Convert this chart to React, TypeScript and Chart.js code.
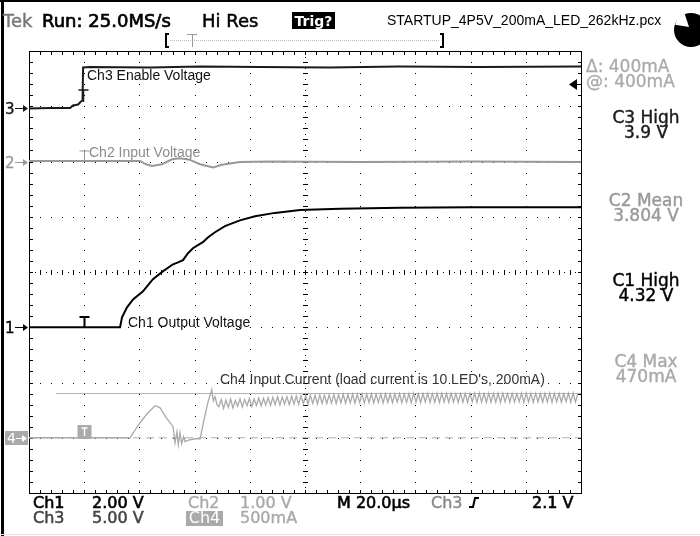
import React, { useEffect, useRef } from "react";
import { Chart, registerables } from "chart.js";

Chart.register(...registerables);

// ---- Time base: 20 µs/div, 10 divisions, trigger one division from the left
const T_MIN = -20;
const T_MAX = 180;

// ---- Ch1 Output Voltage (V), 2.00 V/div
const CH1_T = [-20, 13, 13.7, 15.5, 17.7, 21.3, 24.9, 28.6, 32.2, 34.0, 35.8, 37.6, 39.4, 41.2, 43.0, 44.9, 47.4, 51.0, 56.4, 61.9, 69.1, 78.2, 92.7, 114.4, 140, 180];
const CH1_V = [0, 0, 0.36, 0.72, 1.01, 1.3, 1.74, 2.03, 2.28, 2.35, 2.43, 2.68, 2.86, 2.97, 3.08, 3.26, 3.44, 3.66, 3.87, 4.02, 4.14, 4.24, 4.29, 4.33, 4.34, 4.34];

// ---- Ch3 Enable Voltage (V), 5.00 V/div
const CH3_T = [-20, -12.4, -5.1, -4.1, -2.2, -1.2, -0.6, -0.4, 2.1, 23.8, 42, 63.7, 89, 114, 143, 180];
const CH3_V = [0, 0.04, 0.05, 0.27, 0.36, 0.63, 0.72, 3.71, 3.76, 3.71, 3.8, 3.76, 3.71, 3.8, 3.76, 3.8];

// ---- Ch2 Input Voltage (V), 1.00 V/div, offset 3.8 V
const CH2_T = [-20, 20.2, 22.4, 24.6, 28.2, 31.8, 34.7, 38.3, 42.0, 46.7, 49.9, 56.4, 67.3, 100, 140, 180];
const CH2_V = [3.81, 3.81, 3.75, 3.72, 3.75, 3.84, 3.86, 3.83, 3.75, 3.69, 3.74, 3.79, 3.8, 3.79, 3.8, 3.79];

// ---- Ch4 Input Current (mA), 500 mA/div
const CH4_T = [-20, 0, 16.6, 20.2, 23.1, 25.7, 27.5, 29.7, 31.1, 32.2, 32.9, 33.6, 34.1, 34.7, 35.3, 36.0, 36.5, 38.3, 40.1, 42.0, 43.4, 44.9, 46.2, 46.8, 47.4, 48.1];
const CH4_MA = [0, 0, 0, 136, 226, 290, 271, 181, 136, 100, -45, 54, -63, 45, -54, 9, -36, -18, -9, -9, 163, 326, 434, 335, 371, 299];
const CH4_RIPPLE_T0 = 48.8;
const CH4_RIPPLE_DT = 0.85;
const CH4_RIPPLE_MA = [
  280, 345, 265, 340, 275, 350, 270, 338, 285, 352, 278, 346, 290, 355, 283, 350, 292, 360, 288, 356,
  296, 362, 292, 366, 300, 370, 296, 368, 305, 372, 300, 376, 306, 378, 303, 380, 308, 382, 305, 385,
  310, 384, 306, 388, 312, 386, 309, 390, 314, 392, 310, 389, 315, 394, 312, 391, 316, 395, 313, 393,
  318, 396, 314, 394, 319, 398, 315, 395, 320, 397, 316, 399, 321, 396, 317, 398, 322, 400, 318, 397,
  320, 399, 317, 401, 322, 398, 318, 400, 323, 402, 319, 399, 321, 401, 318, 403, 323, 400, 320, 402,
  324, 399, 319, 401, 322, 403, 320, 400, 325, 402, 321, 404, 323, 401, 319, 403, 324, 400, 322, 402,
  320, 404, 325, 401, 321, 403, 323, 400, 326, 402, 320, 404, 324, 401, 322, 403, 325, 400, 321, 402,
  324, 404, 320, 401, 325, 403, 322, 400, 326, 402, 321, 404, 323, 401,
];

// ---- Cursors (Ch4) and trigger
const CURSOR_A_MA = 0;
const CURSOR_B_MA = 400;
const CURSOR_B_T_START = -10.2;
const TRIG_LEVEL_V = 2.1;

// ---- Readouts
const MEAS_LABELS = ["C3 High", "C2 Mean", "C1 High", "C4 Max"];
const MEAS_VALUES = ["3.9 V", "3.804 V", "4.32 V", "470mA"];
const CURSOR_TEXT = ["\u0394: 400mA", "@: 400mA"];
const CH_NAMES = ["Ch1", "Ch2", "Ch3", "Ch4"];
const CH_SCALES = ["2.00 V", "1.00 V", "5.00 V", "500mA"];
const TRACE_LABELS = [
  "Ch3 Enable Voltage",
  "Ch2 Input Voltage",
  "Ch1 Output Voltage",
  "Ch4 Input Current (load current is 10 LED's, 200mA)",
];

const C_CH1 = "#000000";
const C_CH2 = "#999999";
const C_CH3 = "#1a1a1a";
const C_CH4 = "#aaaaaa";

const TEK = '"DejaVu Sans", sans-serif';
const ARIAL = '"Liberation Sans", Arial, sans-serif';

function pts(t: number[], v: number[]) {
  return t.map((x, i) => ({ x, y: v[i] }));
}

function ch4Points() {
  const a = pts(CH4_T, CH4_MA);
  const b = CH4_RIPPLE_MA.map((v, i) => ({ x: CH4_RIPPLE_T0 + i * CH4_RIPPLE_DT, y: v }));
  return a.concat(b);
}

const graticulePlugin = {
  id: "graticule",
  beforeDraw(chart: any) {
    const ctx = chart.ctx;
    ctx.save();
    ctx.fillStyle = "#ffffff";
    ctx.fillRect(0, 0, chart.width, chart.height);
    ctx.restore();
  },
  beforeDatasetsDraw(chart: any) {
    const ctx = chart.ctx;
    const a = chart.chartArea;
    const gx = chart.scales.gx;
    const gy = chart.scales.gy;
    const X = (d: number) => Math.round(gx.getPixelForValue(d));
    const Y = (d: number) => Math.round(gy.getPixelForValue(d));
    ctx.save();
    ctx.fillStyle = "#000";
    for (let i = 1; i < 10; i++) {
      const x = X(i);
      for (let k = 1; k < 40; k++) ctx.fillRect(x, Y(k / 5), 1, 1);
    }
    for (let j = 1; j < 8; j++) {
      const y = Y(j);
      for (let k = 1; k < 50; k++) ctx.fillRect(X(k / 5), y, 1, 1);
    }
    const cx = X(5);
    const cy = Y(4);
    for (let k = 1; k < 80; k++) ctx.fillRect(cx, Y(k / 10), 1, 1);
    for (let k = 1; k < 100; k++) ctx.fillRect(X(k / 10), cy, 1, 1);
    for (let k = 1; k < 40; k++) ctx.fillRect(cx - 2, Y(k / 5), 5, 1);
    for (let k = 1; k < 50; k++) ctx.fillRect(X(k / 5), cy - 2, 1, 5);
    for (let k = 1; k < 50; k++) {
      ctx.fillRect(X(k / 5), a.top, 1, 4);
      ctx.fillRect(X(k / 5), a.bottom - 3, 1, 4);
    }
    for (let k = 1; k < 40; k++) {
      ctx.fillRect(a.left, Y(k / 5), 4, 1);
      ctx.fillRect(a.right - 3, Y(k / 5), 4, 1);
    }
    ctx.strokeStyle = "#000";
    ctx.lineWidth = 1;
    ctx.strokeRect(a.left + 0.5, a.top + 0.5, a.right - a.left, a.bottom - a.top);
    ctx.restore();
  },
};

function text(ctx: any, s: string, x: number, y: number, font: string, color: string, align: string = "left", heavy: number = 0) {
  ctx.font = font;
  ctx.fillStyle = color;
  ctx.textAlign = align;
  ctx.textBaseline = "alphabetic";
  ctx.fillText(s, x, y);
  if (heavy > 0) {
    ctx.strokeStyle = color;
    ctx.lineWidth = heavy;
    ctx.setLineDash([]);
    ctx.strokeText(s, x, y);
  }
}

function arrowRight(ctx: any, x0: number, x1: number, y: number, color: string) {
  ctx.fillStyle = color;
  ctx.fillRect(x0, y, x1 - x0 - 3, 1);
  ctx.beginPath();
  ctx.moveTo(x1, y + 0.5);
  ctx.lineTo(x1 - 5, y - 3);
  ctx.lineTo(x1 - 5, y + 4);
  ctx.closePath();
  ctx.fill();
}

function tMark(ctx: any, x: number, yTop: number, yBot: number, color: string, w: number) {
  ctx.strokeStyle = color;
  ctx.lineWidth = w;
  ctx.beginPath();
  ctx.moveTo(x - 5, yTop);
  ctx.lineTo(x + 5, yTop);
  ctx.moveTo(x, yTop);
  ctx.lineTo(x, yBot);
  ctx.stroke();
}

const overlayPlugin = {
  id: "overlay",
  afterDraw(chart: any) {
    const ctx = chart.ctx;
    const sx = chart.scales.x;
    const y1 = chart.scales.y1;
    const y2 = chart.scales.y2;
    const y3 = chart.scales.y3;
    const y4 = chart.scales.y4;
    ctx.save();
    ctx.setLineDash([]);

    // frame
    ctx.fillStyle = "#000";
    ctx.fillRect(1, 0, 3, chart.height);
    ctx.fillRect(0, 0, chart.width, 2);
    ctx.fillStyle = "#e6e6e6";
    ctx.fillRect(0, chart.height - 2, chart.width, 1);

    // header
    text(ctx, "Tek", 3, 27, `18px ${TEK}`, "#777", "left", 0.4);
    text(ctx, "Run: 25.0MS/s", 42, 27, `18px ${TEK}`, "#000", "left", 0.7);
    text(ctx, "Hi Res", 202, 27, `18px ${TEK}`, "#000", "left", 0.5);
    ctx.fillStyle = "#000";
    ctx.fillRect(292, 12, 43, 17);
    text(ctx, "Trig?", 313.5, 26, `bold 14px ${TEK}`, "#fff", "center");
    text(ctx, "STARTUP_4P5V_200mA_LED_262kHz.pcx", 387, 25, `14px ${ARIAL}`, "#000");

    // status disc
    ctx.fillStyle = "#000";
    ctx.beginPath();
    ctx.arc(691, 30, 17, 0, Math.PI * 2);
    ctx.fill();
    ctx.fillStyle = "#fff";
    ctx.beginPath();
    ctx.moveTo(689, 27);
    ctx.arc(689, 27, 14, Math.PI * 1.05, Math.PI * 1.4);
    ctx.closePath();
    ctx.fill();

    // record view bar
    ctx.strokeStyle = "#000";
    ctx.lineWidth = 2;
    ctx.beginPath();
    ctx.moveTo(169, 34);
    ctx.lineTo(166, 34);
    ctx.lineTo(166, 47);
    ctx.lineTo(169, 47);
    ctx.moveTo(440, 34);
    ctx.lineTo(443, 34);
    ctx.lineTo(443, 47);
    ctx.lineTo(440, 47);
    ctx.stroke();
    ctx.fillStyle = "#bbb";
    for (let x = 170; x < 440; x += 2) ctx.fillRect(x, 40, 1, 1);
    ctx.strokeStyle = "#999";
    ctx.lineWidth = 1;
    ctx.beginPath();
    ctx.moveTo(187, 34.5);
    ctx.lineTo(197, 34.5);
    ctx.moveTo(192.5, 34);
    ctx.lineTo(192.5, 47);
    ctx.stroke();

    // channel ground markers
    const g1 = Math.round(y1.getPixelForValue(0));
    const g2 = Math.round(y2.getPixelForValue(3.8));
    const g3 = Math.round(y3.getPixelForValue(0));
    const g4 = Math.round(y4.getPixelForValue(0));
    text(ctx, "3", 5, g3 + 6, `15px ${TEK}`, C_CH3, "left", 0.4);
    arrowRight(ctx, 15, 28, g3, C_CH3);
    text(ctx, "2", 5, g2 + 6, `15px ${TEK}`, C_CH2, "left", 0.4);
    arrowRight(ctx, 15, 28, g2, C_CH2);
    text(ctx, "1", 5, g1 + 6, `15px ${TEK}`, C_CH1, "left", 0.4);
    arrowRight(ctx, 15, 28, g1, C_CH1);
    ctx.fillStyle = C_CH4;
    ctx.fillRect(5, g4 - 7, 23, 14);
    text(ctx, "4", 7, g4 + 5, `14px ${TEK}`, "#fff");
    arrowRight(ctx, 16, 27, g4, "#fff");

    // trigger position marks
    const tx = Math.round(sx.getPixelForValue(0)) + 0.5;
    tMark(ctx, tx - 1, g3 - 18, g3 - 6, C_CH3, 1.5);
    tMark(ctx, tx, g2 - 11, g2, C_CH2, 1);
    tMark(ctx, tx, g1 - 10, g1, C_CH1, 2);
    ctx.fillStyle = C_CH4;
    ctx.fillRect(tx - 7, g4 - 13, 14, 14);
    ctx.strokeStyle = "#fff";
    ctx.lineWidth = 1.5;
    ctx.beginPath();
    ctx.moveTo(tx - 3, g4 - 10);
    ctx.lineTo(tx + 3, g4 - 10);
    ctx.moveTo(tx, g4 - 10);
    ctx.lineTo(tx, g4 - 2);
    ctx.stroke();

    // trigger level arrow (right edge)
    const tl = Math.round(y3.getPixelForValue(TRIG_LEVEL_V)) - 1;
    ctx.fillStyle = "#000";
    ctx.beginPath();
    ctx.moveTo(569, tl + 0.5);
    ctx.lineTo(577, tl - 5);
    ctx.lineTo(577, tl + 6);
    ctx.closePath();
    ctx.fill();
    ctx.fillRect(576, tl, 6, 1);

    // trace labels
    text(ctx, TRACE_LABELS[0], 87, 80, `14px ${ARIAL}`, "#111");
    text(ctx, TRACE_LABELS[1], 89, 157, `14px ${ARIAL}`, "#8c8c8c");
    text(ctx, TRACE_LABELS[2], 128, 327, `14px ${ARIAL}`, "#111");
    text(ctx, TRACE_LABELS[3], 220, 384, `14px ${ARIAL}`, "#333");

    // right readouts
    text(ctx, CURSOR_TEXT[0], 586, 72, `17px ${TEK}`, C_CH4, "left", 0.3);
    text(ctx, CURSOR_TEXT[1], 586, 87, `17px ${TEK}`, C_CH4, "left", 0.3);
    const measY = [123, 206, 286, 367];
    const measC = [C_CH3, C_CH2, C_CH1, C_CH4];
    for (let i = 0; i < MEAS_LABELS.length; i++) {
      text(ctx, MEAS_LABELS[i], 646, measY[i], `17px ${TEK}`, measC[i], "center", 0.4);
      text(ctx, MEAS_VALUES[i], 646, measY[i] + 15, `17px ${TEK}`, measC[i], "center", 0.4);
    }

    // bottom readouts
    const F = `16px ${TEK}`;
    text(ctx, CH_NAMES[0], 33, 508, F, C_CH1, "left", 0.6);
    text(ctx, CH_SCALES[0], 92, 508, F, C_CH1, "left", 0.6);
    text(ctx, CH_NAMES[1], 188, 508, F, C_CH4, "left", 0.4);
    text(ctx, CH_SCALES[1], 240, 508, F, C_CH4, "left", 0.4);
    text(ctx, "M 20.0\u00b5s", 337, 508, F, "#000", "left", 0.6);
    text(ctx, CH_NAMES[2], 431, 508, F, "#888", "left", 0.4);
    ctx.strokeStyle = "#000";
    ctx.lineWidth = 2;
    ctx.beginPath();
    ctx.moveTo(469, 507);
    ctx.lineTo(473, 507);
    ctx.lineTo(475, 498);
    ctx.lineTo(479, 498);
    ctx.stroke();
    text(ctx, "2.1 V", 532, 508, F, "#000", "left", 0.6);
    text(ctx, CH_NAMES[2], 33, 523, F, "#444", "left", 0.5);
    text(ctx, CH_SCALES[2], 92, 523, F, "#444", "left", 0.5);
    ctx.fillStyle = C_CH4;
    ctx.fillRect(186, 511, 37, 15);
    text(ctx, CH_NAMES[3], 204.5, 523, F, "#fff", "center");
    text(ctx, CH_SCALES[3], 240, 523, F, C_CH4, "left", 0.4);

    ctx.restore();
  },
};

export default function App() {
  const ref = useRef<HTMLCanvasElement>(null);
  useEffect(() => {
    const canvas = ref.current;
    if (!canvas) return;
    const chart = new Chart(canvas, {
      type: "line",
      data: {
        datasets: [
          { label: "Ch1", data: pts(CH1_T, CH1_V), yAxisID: "y1", borderColor: C_CH1, borderWidth: 2 },
          { label: "Ch3", data: pts(CH3_T, CH3_V), yAxisID: "y3", borderColor: C_CH3, borderWidth: 2 },
          { label: "Ch2", data: pts(CH2_T, CH2_V), yAxisID: "y2", borderColor: C_CH2, borderWidth: 2 },
          { label: "Ch4", data: ch4Points(), yAxisID: "y4", borderColor: C_CH4, borderWidth: 1.3 },
          {
            label: "Cursor b",
            data: [{ x: CURSOR_B_T_START, y: CURSOR_B_MA }, { x: T_MAX, y: CURSOR_B_MA }],
            yAxisID: "y4",
            borderColor: "#b0b0b0",
            borderWidth: 1,
          },
          {
            label: "Cursor a",
            data: [{ x: T_MIN, y: CURSOR_A_MA }, { x: T_MAX, y: CURSOR_A_MA }],
            yAxisID: "y4",
            borderColor: "#b0b0b0",
            borderWidth: 1,
            borderDash: [8, 5],
          },
        ] as any,
      },
      options: {
        responsive: false,
        animation: false,
        devicePixelRatio: 1,
        layout: { padding: { left: 29, top: 51, right: 119, bottom: 43 } },
        elements: { point: { radius: 0 }, line: { tension: 0 } },
        plugins: { legend: { display: false }, tooltip: { enabled: false }, title: { display: false } },
        scales: {
          x: { type: "linear", min: T_MIN, max: T_MAX, display: false },
          gx: { type: "linear", axis: "x", min: 0, max: 10, display: false },
          gy: { type: "linear", axis: "y", min: 0, max: 8, display: false },
          y1: { type: "linear", axis: "y", min: -6, max: 10, display: false },
          y2: { type: "linear", axis: "y", min: -2.2, max: 5.8, display: false },
          y3: { type: "linear", axis: "y", min: -34.8, max: 5.2, display: false },
          y4: { type: "linear", axis: "y", min: -500, max: 3500, display: false },
        },
      } as any,
      plugins: [graticulePlugin, overlayPlugin],
    });
    return () => chart.destroy();
  }, []);
  return (
    <div style={{ position: "absolute", left: 0, top: 0, width: 700, height: 536, background: "#fff" }}>
      <canvas ref={ref} width={700} height={536} style={{ display: "block", width: 700, height: 536 }} />
    </div>
  );
}
